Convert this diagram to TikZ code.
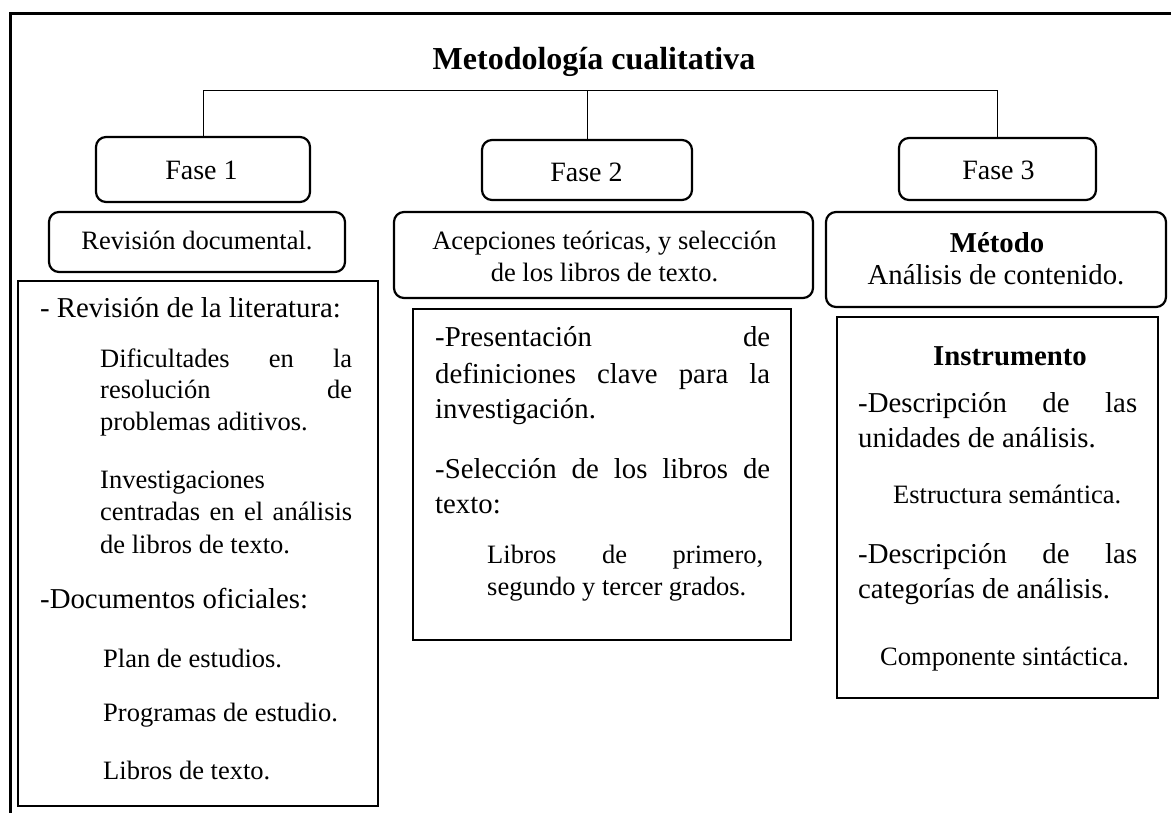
\documentclass[tikz,border=0pt]{standalone}
\usepackage{fontspec}
\setmainfont{Liberation Serif}
\newcommand{\fTitle}{\fontsize{32}{36}\selectfont\bfseries}
\newcommand{\fFase}{\fontsize{28}{32}\selectfont}
\newcommand{\fSmall}{\fontsize{26.5}{30}\selectfont}
\newcommand{\fMain}{\fontsize{28.8}{33}\selectfont}
\newcommand{\jline}[2]{\makebox[#1pt][l]{#2}}
\begin{document}
\begin{tikzpicture}[x=1pt,y=-1pt,
  rbox/.style={draw, line width=2.2pt, rounded corners=10pt, inner sep=0pt},
  sbox/.style={draw, line width=2.2pt, inner sep=0pt},
  link/.style={draw, line width=1pt},
  txt/.style={inner sep=0pt, anchor=base west},
  ctxt/.style={inner sep=0pt, anchor=base}]
\useasboundingbox (0,0) rectangle (1171,813);
% outer frame (top and left edges only)
\coordinate (frTR) at (1171,13.5);
\coordinate (frBL) at (10,813);
\draw[line width=3pt] (frTR) -| (frBL);

% title
\node[ctxt] (title) at (594,70) {\fTitle Metodología cualitativa};

% phase boxes
\node[rbox, minimum width=214pt, minimum height=65pt] (f1) at (203,169.5) {};
\node[rbox, minimum width=210pt, minimum height=60pt] (f2) at (587,170) {};
\node[rbox, minimum width=197pt, minimum height=62pt] (f3) at (997.5,169) {};
\node[ctxt] (f1t) at (201.5,180) {\fFase Fase 1};
\node[ctxt] (f2t) at (586.5,182) {\fFase Fase 2};
\node[ctxt] (f3t) at (998.5,180) {\fFase Fase 3};

% connectors
\coordinate (hub) at (587,90.5);
\draw[link] (f1.north) |- (hub) -| (f3.north);
\draw[link] (f2.north) -- (f2.north |- hub);

% second row boxes
\node[rbox, minimum width=296pt, minimum height=60pt] (rd) at (197,242) {};
\node[rbox, minimum width=419pt, minimum height=86pt] (ac) at (603.5,255) {};
\node[rbox, minimum width=340pt, minimum height=95pt] (me) at (996,259.5) {};
\node[ctxt] (rdt) at (197,250) {\fSmall Revisión documental.};
\node[ctxt] (act1) at (604.5,250) {\fSmall Acepciones teóricas, y selección};
\node[ctxt] (act2) at (604.5,282) {\fSmall de los libros de texto.};
\node[ctxt] (met1) at (997,253) {\fMain\bfseries Método};
\node[ctxt] (met2) at (996,285) {\fMain Análisis de contenido.};

% content boxes
\node[sbox, minimum width=360pt, minimum height=525pt] (lb) at (198,543.5) {};
\node[sbox, minimum width=378pt, minimum height=331pt] (mb) at (602,474.5) {};
\node[sbox, minimum width=321pt, minimum height=381pt] (rb) at (997.5,507.5) {};

% left box text
\node[txt] (a1) at (40,318) {\fMain - Revisión de la literatura:};
\node[txt] (a2) at (100,367) {\fSmall\jline{252}{Dificultades\hfill en\hfill la}};
\node[txt] (a3) at (100,398) {\fSmall\jline{252}{resolución\hfill de}};
\node[txt] (a4) at (100,430) {\fSmall problemas aditivos.};
\node[txt] (a5) at (100,488) {\fSmall Investigaciones};
\node[txt] (a6) at (100,520) {\fSmall\jline{252}{centradas\hfill en\hfill el\hfill análisis}};
\node[txt] (a7) at (100,553) {\fSmall de libros de texto.};
\node[txt] (a8) at (40,608) {\fMain -Documentos oficiales:};
\node[txt] (a9) at (103,667) {\fSmall Plan de estudios.};
\node[txt] (a10) at (103,721) {\fSmall Programas de estudio.};
\node[txt] (a11) at (103,779) {\fSmall Libros de texto.};

% middle box text
\node[txt] (m1) at (435,347) {\fMain\jline{335}{-Presentación\hfill de}};
\node[txt] (m2) at (435,383) {\fMain\jline{335}{definiciones\hfill clave\hfill para\hfill la}};
\node[txt] (m3) at (435,418) {\fMain investigación.};
\node[txt] (m4) at (435,478) {\fMain\jline{335}{-Selección\hfill de\hfill los\hfill libros\hfill de}};
\node[txt] (m5) at (435,513) {\fMain texto:};
\node[txt] (m6) at (487,563) {\fSmall\jline{276}{Libros\hfill de\hfill primero,}};
\node[txt] (m7) at (487,595) {\fSmall segundo y tercer grados.};

% right box text
\node[ctxt] (r1) at (1010,365) {\fMain\bfseries Instrumento};
\node[txt] (r2) at (858,412) {\fMain\jline{279}{-Descripción\hfill de\hfill las}};
\node[txt] (r3) at (858,447) {\fMain unidades de análisis.};
\node[txt] (r4) at (893,503) {\fSmall Estructura semántica.};
\node[txt] (r5) at (858,563) {\fMain\jline{279}{-Descripción\hfill de\hfill las}};
\node[txt] (r6) at (858,598) {\fMain categorías de análisis.};
\node[txt] (r7) at (880,665) {\fSmall Componente sintáctica.};
\end{tikzpicture}
\end{document}
